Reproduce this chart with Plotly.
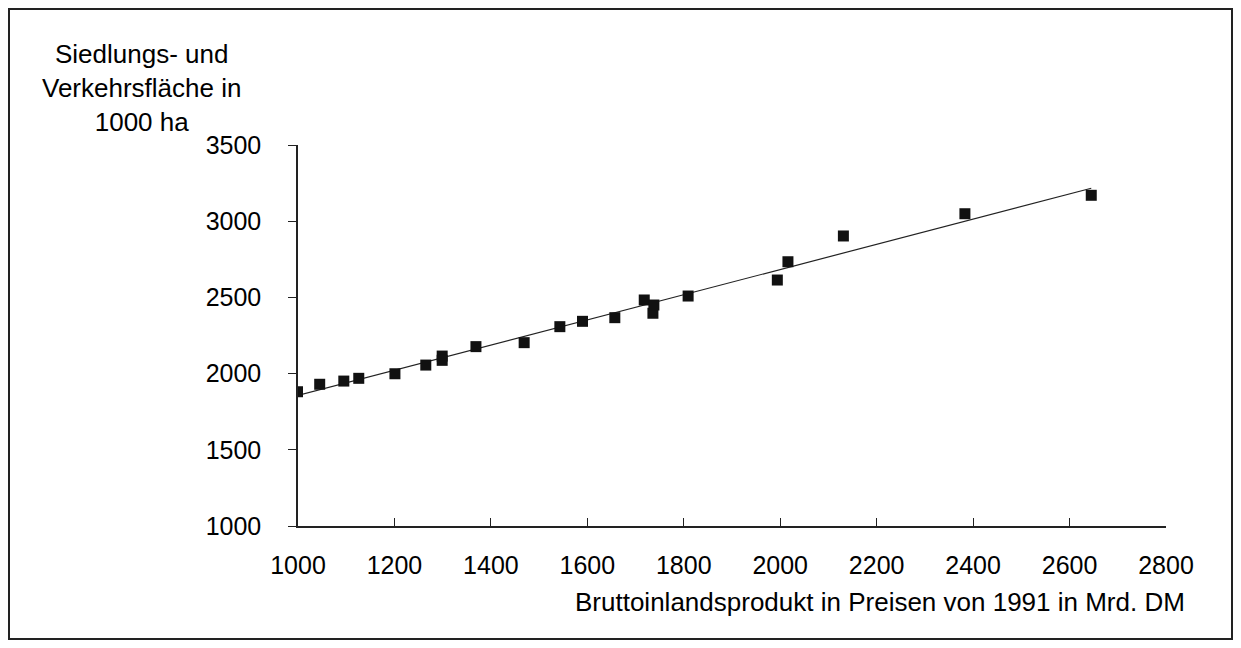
import numpy as np
import plotly.graph_objects as go

# Data
gdp = [999, 1045, 1095, 1126, 1201, 1265, 1299, 1299, 1369, 1469, 1543,
       1590, 1657, 1718, 1736, 1738, 1809, 1994, 2016, 2131, 2383, 2645]
area = [1881, 1930, 1951, 1969, 1999, 2056, 2115, 2087, 2177, 2203, 2308,
        2343, 2367, 2483, 2396, 2450, 2509, 2614, 2734, 2903, 3049, 3170]
x_ticks = [1000, 1200, 1400, 1600, 1800, 2000, 2200, 2400, 2600, 2800]
y_ticks = [1000, 1500, 2000, 2500, 3000, 3500]

y_title = "Siedlungs- und<br>Verkehrsfläche in<br>1000 ha"
x_title = "Bruttoinlandsprodukt in Preisen von 1991 in Mrd. DM"

# Linear trend line (least squares), as in the original spreadsheet chart
slope, intercept = np.polyfit(gdp, area, 1)
trend_x = [min(gdp), max(gdp)]
trend_y = [slope * v + intercept for v in trend_x]

FONT = "Arial, Liberation Sans, sans-serif"

fig = go.Figure()
fig.add_trace(go.Scatter(x=trend_x, y=trend_y, mode="lines",
                         line=dict(color="#222222", width=1.2),
                         hoverinfo="skip", showlegend=False))
fig.add_trace(go.Scatter(x=gdp, y=area, mode="markers",
                         marker=dict(symbol="square", size=11, color="#111111"),
                         showlegend=False))

OFF = 8  # page body margin
W, H = 1241 - OFF, 648 - OFF
L, T = 298 - OFF, 145 - OFF
R = W - (1166 - OFF)
B = H - (526 - OFF)
pw, ph = W - L - R, H - T - B

def px(xp):
    return (xp - OFF - L) / pw

def py(yp):
    return (H - B - (yp - OFF)) / ph

fig.update_layout(
    width=W, height=H,
    margin=dict(l=L, r=R, t=T, b=B),
    paper_bgcolor="white", plot_bgcolor="white",
    font=dict(family=FONT, size=25, color="#000000"),
    xaxis=dict(range=[1000, 2800], tickvals=x_ticks, ticks="inside", ticklen=8,
               tickcolor="#222", showline=True, linecolor="#222", linewidth=1.5,
               showgrid=False, zeroline=False, ticklabelstandoff=16,
               tickfont=dict(size=25)),
    yaxis=dict(range=[1000, 3500], tickvals=y_ticks, ticks="outside", ticklen=8,
               tickcolor="#222", showline=True, linecolor="#222", linewidth=1.5,
               showgrid=False, zeroline=False, ticklabelstandoff=22,
               tickfont=dict(size=25)),
    annotations=[
        dict(text=y_title, xref="paper", yref="paper", x=px(141), y=py(37),
             xanchor="center", yanchor="top", align="center", showarrow=False,
             font=dict(size=26)),
        dict(text=x_title, xref="paper", yref="paper", x=px(1187), y=py(602),
             xanchor="right", yanchor="middle", showarrow=False,
             font=dict(size=26)),
    ],
    shapes=[
        dict(type="rect", xref="paper", yref="paper",
             x0=px(9), x1=px(1232), y0=py(639), y1=py(9),
             line=dict(color="#222", width=2), fillcolor="rgba(0,0,0,0)"),
    ],
)

fig.write_html("out.html")
